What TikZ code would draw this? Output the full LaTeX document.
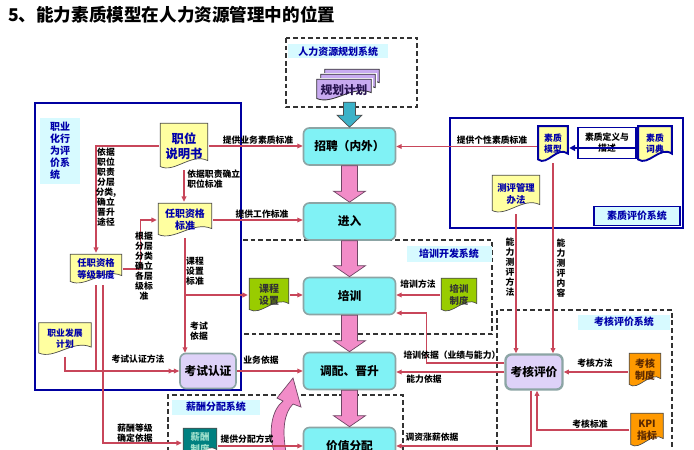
\documentclass[tikz,border=0pt]{standalone}
\usepackage{fontspec}
\setmainfont{Noto Sans CJK SC}
\usepackage{xcolor}
\usepackage{tikz}
\usetikzlibrary{positioning, calc, arrows.meta}

\definecolor{stagecyan}{RGB}{128,242,245}
\definecolor{stageedge}{RGB}{140,165,165}
\definecolor{lilac}{RGB}{222,210,248}
\definecolor{pinkarr}{RGB}{242,140,200}
\definecolor{pinkedge}{RGB}{110,70,100}
\definecolor{tealarr}{RGB}{60,178,200}
\definecolor{linkred}{RGB}{200,70,90}
\definecolor{framebl}{RGB}{0,0,160}
\definecolor{tagcyan}{RGB}{215,250,255}
\definecolor{docyel}{RGB}{255,255,160}
\definecolor{docgrn}{RGB}{153,204,0}
\definecolor{docorg}{RGB}{255,153,0}
\definecolor{docteal}{RGB}{0,128,128}
\definecolor{docpur}{RGB}{200,170,240}
\definecolor{txtblue}{RGB}{0,0,170}

% fat down arrow between two stacked nodes
\newcommand{\fatdown}[2]{%
  \draw[fatpink] ($(#1.south)+(-8,0)$) -- ($(#2.north)+(-8,-11)$) -- ($(#2.north)+(-16,-11)$)
    -- (#2.north) -- ($(#2.north)+(16,-11)$) -- ($(#2.north)+(8,-11)$) -- ($(#1.south)+(8,0)$) -- cycle;}

\begin{document}
\begin{tikzpicture}[x=0.03cm, y=-0.03cm,
    every node/.style={font=\bfseries},
    stage/.style={draw=stageedge, line width=1.4pt, rounded corners=5pt, fill=stagecyan,
      minimum width=2.76cm, minimum height=1.11cm, font=\bfseries\fontsize{10}{12}\selectfont},
    exam/.style={stage, fill=lilac, minimum width=1.68cm, minimum height=1.05cm},
    doc/.style n args={3}{fill=white, align=center, inner sep=1pt, path picture={
        \coordinate (pNW) at ([shift={(1pt,-1pt)}]path picture bounding box.north west);
        \coordinate (pSE) at ([shift={(-1pt,1pt)}]path picture bounding box.south east);
        \path[fill=#1, draw=#2, line width=#3]
          (pNW) -- (pNW -| pSE) -- ([yshift=7pt]pSE)
          .. controls ($(pSE)!0.35!(pSE -| pNW)+(0pt,14pt)$) and ($(pSE)!0.7!(pSE -| pNW)+(0pt,-4pt)$)
          .. ($(pSE -| pNW)+(0pt,2pt)$) -- cycle;}},
    docyellow/.style={doc={docyel}{black!70}{0.6pt}, text=txtblue, font=\bfseries\fontsize{8.5}{10}\selectfont},
    docblue/.style={doc={docyel}{framebl}{1.6pt}, text=txtblue, font=\bfseries\fontsize{7.5}{9.5}\selectfont},
    docgreen/.style={doc={docgrn}{black!70}{0.6pt}, text=black!80, font=\bfseries\fontsize{8.5}{10}\selectfont},
    docorange/.style={doc={docorg}{black!70}{0.6pt}, text={rgb,255:red,90;green,40;blue,0}, font=\bfseries\fontsize{8.5}{10}\selectfont},
    docpay/.style={doc={docteal}{black!70}{0.6pt}, text={rgb,255:red,160;green,225;blue,205}, font=\bfseries\fontsize{8}{9.5}\selectfont},
    planpage/.style={doc={docpur}{black!80}{0.7pt}, minimum width=1.71cm, minimum height=0.72cm,
      text={rgb,255:red,40;green,20;blue,80}, font=\bfseries\fontsize{10}{12}\selectfont},
    link/.style={draw=linkred, line width=0.9pt, -{Triangle[length=4.5pt,width=4pt]}},
    plain/.style={draw=linkred, line width=0.9pt},
    elabel/.style={font=\bfseries\fontsize{7.5}{9}\selectfont, inner sep=1pt},
    vlabel/.style={elabel, align=center, font=\bfseries\fontsize{7.5}{8.6}\selectfont},
    syslabel/.style={fill=tagcyan, text=txtblue, font=\bfseries\fontsize{8.5}{10}\selectfont, inner sep=1pt},
    frame/.style={draw=framebl, line width=2.4pt},
    sysdash/.style={draw=black!80, line width=0.9pt, dash pattern=on 4pt off 2.5pt},
    fatpink/.style={fill=pinkarr, draw=pinkedge, line width=0.6pt},
    fatteal/.style={fill=tealarr, draw=black!70, line width=0.6pt}
  ]
  \useasboundingbox (0,0) rectangle (694,450);
  \clip (0,0) rectangle (694,450);

  \node[anchor=west, font=\bfseries\fontsize{15}{18}\selectfont] (title) at (4,15) {5、能力素质模型在人力资源管理中的位置};

  % system boxes
  \draw[sysdash] (286,38) rectangle (417,107);
  \node[syslabel, minimum width=3.0cm, minimum height=0.42cm, anchor=north west] (tagplan) at (288,44) {人力资源规划系统};
  \draw[sysdash] (243,240) -- (492,240) -- (492,334) -- (243,334);
  \node[syslabel, minimum width=2.55cm, minimum height=0.48cm] (tagtrain) at (449,254) {培训开发系统};
  \draw[sysdash] (497,452) -- (497,310) -- (672,310) -- (672,452);
  \node[syslabel, minimum width=2.76cm, minimum height=0.45cm] (tageval) at (624,322) {考核评价系统};
  \draw[sysdash] (168,452) -- (168,395) -- (403,395) -- (403,452);
  \node[syslabel, minimum width=2.64cm, minimum height=0.45cm] (tagpay) at (216,407) {薪酬分配系统};

  \draw[frame] (35,103) rectangle (241,390);
  \node[syslabel, minimum width=1.2cm, minimum height=2.0cm, align=left,
    font=\bfseries\fontsize{8.5}{10.2}\selectfont] (tagjob) at (60,151) {职业\\化行\\为评\\价系\\统};
  \draw[frame] (450,118) rectangle (683,228);
  \node[syslabel, draw=framebl, line width=1.2pt, minimum width=2.58cm, minimum height=0.57cm] (tagquality) at (637,216) {素质评价系统};

  % main flow
  \node[stage] (recruit) at (349.5,146.5) {招聘（内外）};
  \node[stage] (entry) at (349.5,221.5) {进入};
  \node[stage] (train) at (349.5,296) {培训};
  \node[stage] (promote) at (349.5,371) {调配、晋升};
  \node[stage] (reward) at (349.5,446) {价值分配};
  \fatdown{recruit}{entry}
  \fatdown{entry}{train}
  \fatdown{train}{promote}
  \fatdown{promote}{reward}

  \node[planpage] (plan3) at (352,80) {};
  \node[planpage] (plan2) at (348,85) {};
  \node[planpage] (plan) at (344,90) {规划计划};
  \coordinate (tA) at (recruit.north |- plan.south);
  \draw[fatteal] ($(tA)+(-6,0)$) -- ($(recruit.north)+(-6,-12)$) -- ($(recruit.north)+(-12.5,-12)$)
    -- (recruit.north) -- ($(recruit.north)+(12.5,-12)$) -- ($(recruit.north)+(6,-12)$) -- ($(tA)+(6,0)$) -- cycle;

  \draw[fatpink] (274,452) .. controls (268,430) and (272,410) .. (283,401) -- (277,398) -- (293,378)
    -- (301,407) -- (293,404) .. controls (284,413) and (282,430) .. (286,452) -- cycle;

  % job system
  \node[docyellow, minimum width=1.5cm, minimum height=1.44cm, font=\bfseries\fontsize{10.5}{12.5}\selectfont] (jobdesc) at (184,146) {职位\\说明书};
  \node[docyellow, minimum width=1.68cm, minimum height=1.08cm] (qualstd) at (185,220) {任职资格\\标准};
  \node[docyellow, minimum width=1.62cm, minimum height=0.96cm, font=\bfseries\fontsize{8}{9.5}\selectfont] (qualgrade) at (96,269) {任职资格\\等级制度};
  \node[docyellow, minimum width=1.65cm, minimum height=1.05cm, font=\bfseries\fontsize{7.5}{9.5}\selectfont] (career) at (65,339) {职业发展\\计划};
  \node[exam] (certify) at (208,371) {考试认证};
  \node[docgreen, minimum width=1.26cm, minimum height=1.08cm] (course) at (269,295) {课程\\设置};
  \node[docgreen, minimum width=1.14cm, minimum height=1.08cm, font=\bfseries\fontsize{8}{10}\selectfont] (trainrule) at (459,295) {培训\\制度};

  % quality system
  \node[docblue, minimum width=0.96cm, minimum height=1.14cm] (model) at (553,144) {素质\\模型};
  \node[draw=framebl, line width=1.6pt, fill=white, minimum width=1.74cm, minimum height=0.93cm,
    align=center, font=\bfseries\fontsize{7.5}{9.5}\selectfont] (define) at (607,143) {素质定义与\\描述};
  \node[docblue, minimum width=1.08cm, minimum height=1.14cm] (dict) at (655,144) {素质\\词典};
  \node[docyellow, minimum width=1.5cm, minimum height=1.2cm, font=\bfseries\fontsize{8}{10}\selectfont] (testrule) at (516,194) {测评管理\\办法};
  \draw[draw=framebl, line width=1.6pt, -{Triangle[length=5pt,width=5pt]}] ($(dict.west)+(0,4)$) -- ($(model.east)+(0,4)$);

  % evaluation system
  \node[exam, line width=2pt, minimum width=1.71cm] (appraise) at (534,372) {考核评价};
  \node[docorange, minimum width=1.02cm, minimum height=1.08cm] (evalrule) at (645,370) {考核\\制度};
  \node[docorange, minimum width=1.05cm, minimum height=1.08cm] (kpi) at (647,430) {KPI\\指标};

  % pay system
  \node[docpay, minimum width=1.08cm, minimum height=0.96cm] (payrule) at (200,443) {薪酬\\制度};

  % links into the main flow
  \draw[link] (jobdesc.east) -- (jobdesc.east -| recruit.west);
  \node[elabel] (l1) at (258,140) {提供业务素质标准};
  \draw[link] (qualstd.east) -- (qualstd.east -| entry.west);
  \node[elabel] (l2) at (262,214) {提供工作标准};
  \draw[link] (course.east) -- (course.east -| train.west);
  \draw[link] (certify.east) -- (certify.east -| promote.west);
  \node[elabel] (l3) at (261,360) {业务依据};
  \draw[link] (payrule.east |- reward.west) -- (reward.west);
  \node[elabel] (l4) at (247,439) {提供分配方式};
  \draw[link] (model.west |- recruit.east) -- (recruit.east);
  \node[elabel] (l5) at (492,140) {提供个性素质标准};
  \draw[link] (trainrule.west) -- (trainrule.west -| train.east);
  \node[elabel] (l6) at (418,284) {培训方法};

  % links inside the job system
  \draw[link] (jobdesc.west) -| (qualgrade.north);
  \node[vlabel] (l7) at (106,187) {依据\\职位\\职责\\分层\\分类,\\确立\\晋升\\途径};
  \draw[link] (jobdesc.south) -- (jobdesc.south |- qualstd.north);
  \node[elabel, anchor=west, align=left, font=\bfseries\fontsize{7.5}{8.8}\selectfont] (l8) at (186,179) {依据职责确立\\职位标准};
  \draw[link] (qualgrade.east) -- ++(17,0) |- (qualstd.west);
  \node[vlabel] (l9) at (144,266) {根据\\分层\\分类\\确立\\各层\\级标\\准};
  \draw[link] (qualstd.south) -- (qualstd.south |- certify.north);
  \coordinate (cb) at (qualstd.south |- course.west);
  \draw[link] (cb) -- (course.west);
  \node[vlabel] (l10) at (195,271) {课程\\设置\\标准};
  \node[vlabel] (l11) at (199,331) {考试\\依据};
  \draw[draw=linkred, line width=0.9pt, -{Triangle[length=4.5pt,width=4pt]Triangle[length=4.5pt,width=4pt]}]
    (qualgrade.south) |- (certify.west);
  \draw[plain] (career.south) |- (qualgrade.south |- certify.west);
  \node[elabel] (l12) at (138,359) {考试认证方法};
  \draw[link] ($(qualgrade.south)+(7,0)$) |- (payrule.west);
  \node[vlabel] (l13) at (135,433) {薪酬等级\\确定依据};

  % links of the evaluation system
  \draw[link] (testrule.south) -- (testrule.south |- appraise.north);
  \node[vlabel] (l14) at (510,267) {能\\力\\测\\评\\方\\法};
  \draw[link] (model.south) -- (model.south |- appraise.north);
  \node[vlabel] (l15) at (561,268) {能\\力\\测\\评\\内\\容};
  \draw[link] (evalrule.west |- appraise.east) -- (appraise.east);
  \node[elabel] (l16) at (595,363) {考核方法};
  \draw[link] (kpi.west) -| ($(appraise.south)+(3,0)$);
  \node[elabel] (l17) at (590,424) {考核标准};
  \draw[link] ($(appraise.south)+(-3,0)$) |- (reward.east);
  \node[elabel] (l18) at (432,437) {调资涨薪依据};
  \draw[link] ($(appraise.west)+(0,-9)$) -- ++(-78,0) |- ($(train.east)+(0,17)$);
  \node[elabel] (l19) at (452,355) {培训依据（业绩与能力）};
  \draw[link] (appraise.west) -- (appraise.west -| promote.east);
  \node[elabel] (l20) at (424,379) {能力依据};
\end{tikzpicture}
\end{document}
